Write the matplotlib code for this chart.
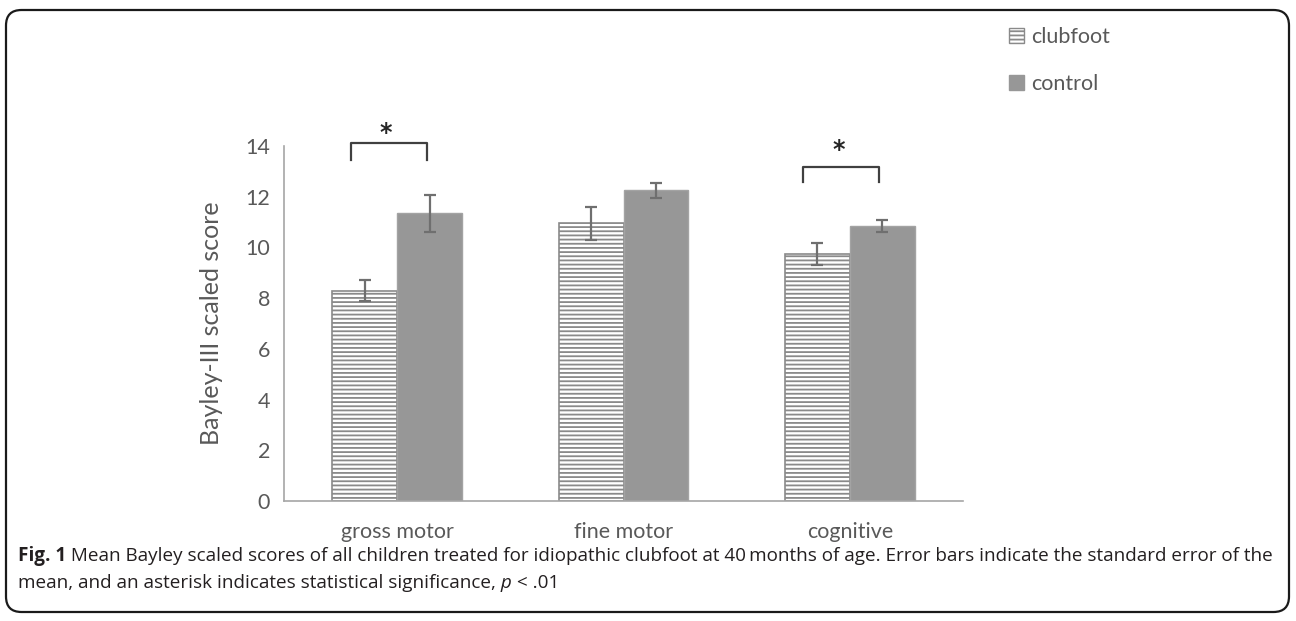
import numpy as np
import matplotlib
matplotlib.use('Agg')
import matplotlib.pyplot as plt
from matplotlib.patches import FancyBboxPatch, Patch

# # # # # # # # # # # # # # # # # # # # # # # # # # # # # # # # # # #
# data
categories = ['gross motor', 'fine motor', 'cognitive']
clubfoot_mean = [8.3, 10.95, 9.75]
clubfoot_se = [0.42, 0.65, 0.43]
control_mean = [11.35, 12.25, 10.85]
control_se = [0.73, 0.3, 0.23]
yticks = [0, 2, 4, 6, 8, 10, 12, 14]
series_names = ['clubfoot', 'control']
sig_groups = [0, 2]

# # # # # # # # # # # # # # # # # # # # # # # # # # # # # # # # # # #
W, H = 1296, 621
txtgray = '#595959'
barfill = '#979797'
stripe = '#8a8a8a'
errcol = '#6f6f6f'

plt.rcParams['hatch.linewidth'] = 1.3

fig = plt.figure(figsize=(W/100, H/100), dpi=100)
ax = fig.add_axes([284/W, 1-501/H, (963-284)/W, (501-146)/H])

x = np.arange(len(categories))
bw = 0.287
ax.bar(x - bw/2, clubfoot_mean, bw, color='white', edgecolor=stripe,
       hatch='----', linewidth=1.2, zorder=2)
ax.bar(x + bw/2, control_mean, bw, color=barfill, edgecolor='#a3a3a3',
       linewidth=1.0, zorder=2)
ax.errorbar(x - bw/2, clubfoot_mean, yerr=clubfoot_se, fmt='none',
            ecolor=errcol, elinewidth=1.6, capsize=4.5, capthick=1.6, zorder=3)
ax.errorbar(x + bw/2, control_mean, yerr=control_se, fmt='none',
            ecolor=errcol, elinewidth=1.6, capsize=4.5, capthick=1.6, zorder=3)

# significance brackets (top, bottom, asterisk)
brackets = {0: (14.12, 13.45, 14.05), 2: (13.17, 12.58, 13.35)}
for g in sig_groups:
    top, bot, star = brackets[g]
    xl, xr = g - 0.205, g + 0.13
    ax.plot([xl, xl, xr, xr], [bot, top, top, bot], color='#404040',
            lw=1.6, clip_on=False, zorder=4)
    ax.text(g - 0.05, star, '*', ha='center', va='bottom', fontsize=17,
            weight='bold', color='#262626', family='DejaVu Sans',
            clip_on=False)

ax.set_xlim(-0.5, len(categories) - 0.5)
ax.set_ylim(0, 14)
ax.set_yticks(yticks)
ax.set_xticks(x)
ax.set_xticklabels(categories)
for sp in ['top', 'right']:
    ax.spines[sp].set_visible(False)
for sp in ['left', 'bottom']:
    ax.spines[sp].set_color('#a6a6a6')
    ax.spines[sp].set_linewidth(1.2)
ax.tick_params(axis='y', length=0, pad=10, labelsize=15.5, labelcolor=txtgray)
ax.tick_params(axis='x', length=0, pad=15, labelsize=15.5, labelcolor=txtgray)
for lab in ax.get_xticklabels() + ax.get_yticklabels():
    lab.set_family('Lato')
ax.set_ylabel('Bayley-III scaled score', fontsize=18, color=txtgray,
              family='Lato', labelpad=16)

handles = [Patch(facecolor='white', edgecolor=stripe, hatch='----', lw=1.0),
           Patch(facecolor=barfill, edgecolor=barfill)]
fig.legend(handles, series_names, loc='upper left',
           bbox_to_anchor=(990/W, 1-8/H), frameon=False,
           prop={'family': 'Lato', 'size': 15.5}, labelcolor=txtgray,
           handlelength=0.7, handleheight=0.7, handletextpad=0.3,
           labelspacing=1.25)

# caption
renderer = fig.canvas.get_renderer()

def text_runs(x0, y0, runs, size):
    xx = x0
    for s, w, st in runs:
        t = fig.text(xx, y0, s, fontsize=size, weight=w, style=st,
                     family='Open Sans', color='#231f20', va='center')
        xx += t.get_window_extent(renderer).width / W

capsize = 13.6
text_runs(18/W, 1-556/H, [('Fig. 1', 'bold', 'normal'),
          (' Mean Bayley scaled scores of all children treated for idiopathic '
           'clubfoot at 40\u2009months of age. Error bars indicate the standard '
           'error of the', 'normal', 'normal')], capsize)
text_runs(18/W, 1-583/H, [('mean, and an asterisk indicates statistical '
           'significance,', 'normal', 'normal'),
          (' p', 'normal', 'italic'), (' < .01', 'normal', 'normal')],
          capsize)

frame = FancyBboxPatch((6/W, 9/H), (W-13)/W, (H-19)/H,
                       boxstyle='round,pad=0,rounding_size=0.012',
                       transform=fig.transFigure, fill=False,
                       edgecolor='#1a1a1a', lw=1.6, mutation_aspect=W/H)
fig.patches.append(frame)

fig.savefig('out.png', dpi=100)
